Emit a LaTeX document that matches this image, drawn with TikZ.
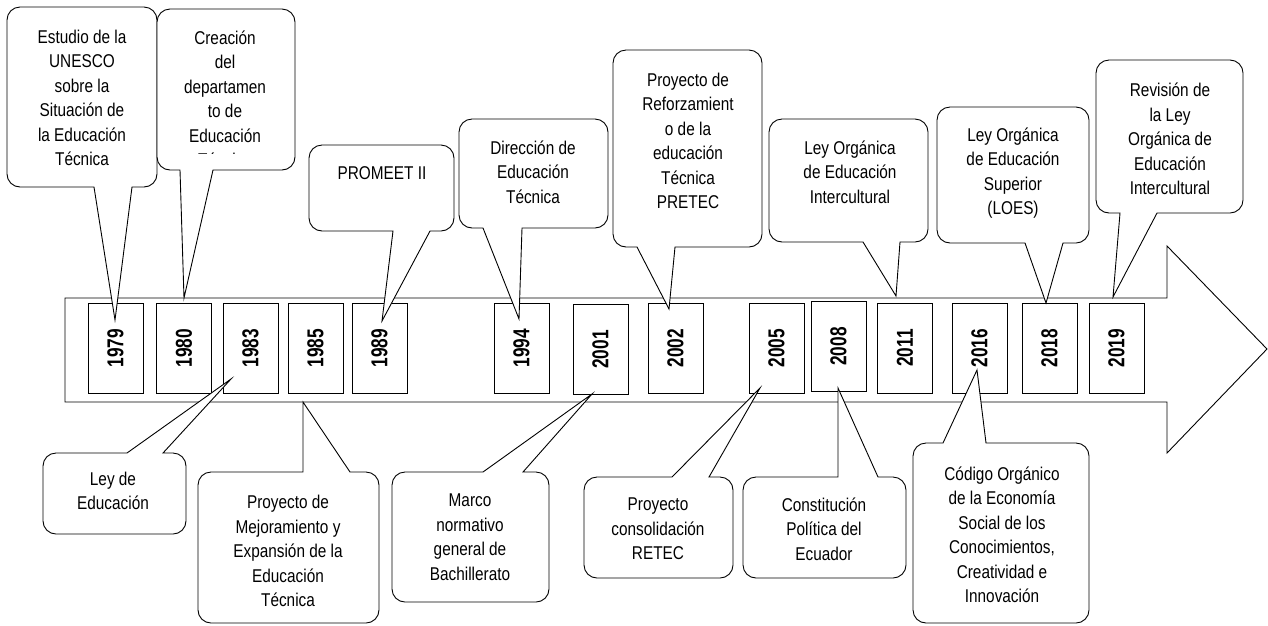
\documentclass[tikz,border=0pt]{standalone}
\usepackage{fontspec}
\setmainfont{Liberation Sans}
\newfontfamily\callfont[FakeStretch=0.83]{Liberation Sans}
\newfontfamily\yearfont[FakeStretch=0.75]{Liberation Sans Bold}
\def\rr{13}
% top callout: pointer on bottom edge. #1 L #2 T #3 R #4 B #5 p1 #6 p2 #7 tip
\newcommand\mkcallD[7]{%
 \draw[callbox] ({#1+\rr},#2) -- ({#3-\rr},#2) arc[start angle=270,end angle=360,radius=\rr]
   -- (#3,{#4-\rr}) arc[start angle=0,end angle=90,radius=\rr]
   -- (#6,#4) -- (#7) -- (#5,#4)
   -- ({#1+\rr},#4) arc[start angle=90,end angle=180,radius=\rr]
   -- (#1,{#2+\rr}) arc[start angle=180,end angle=270,radius=\rr] -- cycle;}
% bottom callout: pointer on top edge
\newcommand\mkcallU[7]{%
 \draw[callbox] ({#1+\rr},#2) -- (#5,#2) -- (#7) -- (#6,#2)
   -- ({#3-\rr},#2) arc[start angle=270,end angle=360,radius=\rr]
   -- (#3,{#4-\rr}) arc[start angle=0,end angle=90,radius=\rr]
   -- ({#1+\rr},#4) arc[start angle=90,end angle=180,radius=\rr]
   -- (#1,{#2+\rr}) arc[start angle=180,end angle=270,radius=\rr] -- cycle;}
\begin{document}
\begin{tikzpicture}[x=1pt,y=-1pt,
  line join=miter,
  callbox/.style={draw=black,fill=white,line width=0.9pt},
  yearbox/.style={draw=black,fill=white,line width=0.9pt,minimum width=55pt,minimum height=90pt,inner sep=0pt},
  yeartext/.style={rotate=90,font=\yearfont\fontsize{23}{23}\selectfont,inner sep=0pt},
  ctext/.style={align=center,inner sep=0pt,font=\callfont\fontsize{18.5}{24.5}\selectfont}]
\useasboundingbox (0,0) rectangle (1268,625);
% main arrow
\draw[line width=0.9pt,fill=white] (65,298) -- (1167,298) -- (1167,246) -- (1267,349) -- (1167,453) -- (1167,402) -- (65,402) -- cycle;
% year boxes
\foreach \yr/\cx/\cy in {1979/115.5/348,1980/184/348,1983/250.5/348,1985/315.5/348,1989/379.5/348,
  1994/521.5/348,2001/600.5/349.5,2002/675.5/348,2005/776.5/348,2008/838.5/346.5,2011/905/348,
  2016/979.5/348,2018/1049.5/348,2019/1116.5/348}{
  \node[yearbox] (y\yr) at (\cx,\cy) {};
  \node[yeartext] (t\yr) at (\cx,\cy) {\yr};
}
% pointer tips
\coordinate (p1979) at (115,320);
\coordinate (p1980) at (184,298);
\coordinate (p1989) at (382,321);
\coordinate (p1994) at (519,319);
\coordinate (p2002) at (669,309);
\coordinate (p2011) at (896,296);
\coordinate (p2018) at (1046,303);
\coordinate (p2019) at (1113,297);
\coordinate (p1983) at (231,379);
\coordinate (p1985) at (303,402);
\coordinate (p2001) at (592,394);
\coordinate (p2005) at (760,388);
\coordinate (p2008) at (838,388);
\coordinate (p2016) at (977,370);
% top callouts
\mkcallD{7}{7}{157}{187}{94}{132}{p1979}
\node[ctext] (c1979) at (82,98) {Estudio de la\\UNESCO\\sobre la\\Situación de\\la Educación\\Técnica};
\mkcallD{157}{9}{295}{170}{180}{213}{p1980}
\begin{scope}
\clip (157,0) rectangle (295,153);
\node[ctext] (c1980) at (225,99) {Creación\\del\\departamen\\to de\\Educación\\Técnica};
\end{scope}
\mkcallD{309}{145}{454}{231}{393}{430}{p1989}
\node[ctext] (c1989) at (382,173) {PROMEET II};
\mkcallD{459}{119}{608}{228}{483}{522}{p1994}
\node[ctext] (c1994) at (533,172) {Dirección de\\Educación\\Técnica};
\mkcallD{613}{50}{762}{247}{637}{675}{p2002}
\node[ctext] (c2002) at (688,141) {Proyecto de\\Reforzamient\\o de la\\educación\\Técnica\\PRETEC};
\mkcallD{769}{119}{928}{242}{863}{900}{p2011}
\node[ctext] (c2011) at (850,172) {Ley Orgánica\\de Educación\\Intercultural};
\mkcallD{937}{107}{1089}{243}{1025}{1063}{p2018}
\node[ctext] (c2018) at (1013,173) {Ley Orgánica\\de Educación\\Superior\\(LOES)};
\mkcallD{1096}{60}{1243}{213}{1120}{1157}{p2019}
\node[ctext] (c2019) at (1170,139) {Revisión de\\la Ley\\Orgánica de\\Educación\\Intercultural};
% bottom callouts
\mkcallU{43}{453}{186}{534}{127}{163}{p1983}
\node[ctext] (c1983) at (113,491) {Ley de\\Educación};
\mkcallU{198}{472}{379}{623}{303}{350}{p1985}
\node[ctext] (c1985) at (288,551) {Proyecto de\\Mejoramiento y\\Expansión de la\\Educación\\Técnica};
\mkcallU{392}{472}{549}{602}{483}{523}{p2001}
\node[ctext] (c2001) at (470,537) {Marco\\normativo\\general de\\Bachillerato};
\mkcallU{584}{477}{733}{578}{672}{709}{p2005}
\node[ctext] (c2005) at (658,529) {Proyecto\\consolidación\\RETEC};
\mkcallU{743}{477}{906}{578}{838}{878}{p2008}
\node[ctext] (c2008) at (824,529) {Constitución\\Política del\\Ecuador};
\mkcallU{913}{443}{1089}{623}{943}{986}{p2016}
\node[ctext] (c2016) at (1002,535) {Código Orgánico\\de la Economía\\Social de los\\Conocimientos,\\Creatividad e\\Innovación};
\end{tikzpicture}
\end{document}
